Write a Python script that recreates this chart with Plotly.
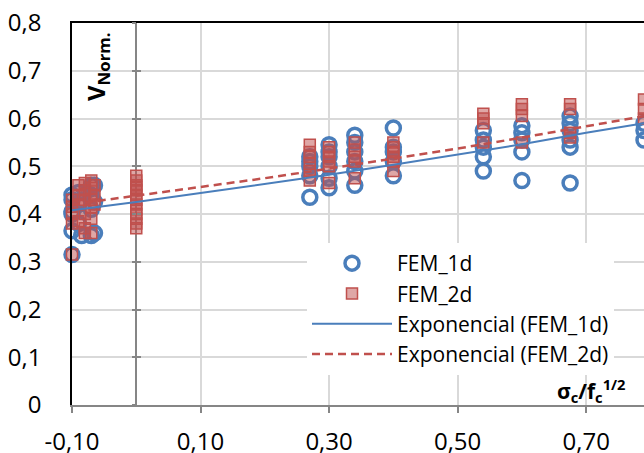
import plotly.graph_objects as go

# ---- data ----
fem1_x = [-0.10]*6 + [-0.09]*3 + [-0.085]*2 + [-0.07]*4 + [-0.065]*3 + \
         [0.27]*5 + [0.30]*6 + [0.34]*6 + [0.40]*5 + \
         [0.54]*5 + [0.60]*5 + [0.675]*6 + [0.79]*3
fem1_y = [0.44, 0.43, 0.405, 0.40, 0.365, 0.315,
          0.445, 0.42, 0.38,
          0.43, 0.355,
          0.46, 0.44, 0.41, 0.355,
          0.46, 0.425, 0.36,
          0.52, 0.51, 0.50, 0.48, 0.435,
          0.545, 0.53, 0.52, 0.50, 0.475, 0.455,
          0.565, 0.55, 0.53, 0.51, 0.49, 0.46,
          0.58, 0.54, 0.53, 0.51, 0.48,
          0.575, 0.555, 0.54, 0.52, 0.49,
          0.585, 0.57, 0.555, 0.53, 0.47,
          0.605, 0.59, 0.575, 0.555, 0.54, 0.465,
          0.59, 0.575, 0.555]

fem2_x = [-0.10]*5 + [-0.09]*4 + [-0.08]*6 + [-0.07]*6 + [-0.065]*3 + [0.0]*13 + \
         [0.27]*6 + [0.30]*6 + [0.34]*5 + [0.40]*6 + \
         [0.54]*4 + [0.60]*4 + [0.675]*4 + [0.79]*3
fem2_y = [0.43, 0.415, 0.40, 0.38, 0.315,
          0.46, 0.44, 0.42, 0.385,
          0.465, 0.45, 0.43, 0.40, 0.37, 0.36,
          0.47, 0.455, 0.43, 0.415, 0.39, 0.36,
          0.46, 0.44, 0.42,
          0.48, 0.47, 0.46, 0.455, 0.45, 0.44, 0.43, 0.42, 0.41, 0.40, 0.39, 0.38, 0.37,
          0.545, 0.53, 0.52, 0.505, 0.49, 0.47,
          0.54, 0.53, 0.52, 0.51, 0.50, 0.465,
          0.55, 0.535, 0.52, 0.51, 0.475,
          0.55, 0.54, 0.53, 0.52, 0.51, 0.49,
          0.61, 0.60, 0.59, 0.55,
          0.63, 0.62, 0.605, 0.55,
          0.63, 0.62, 0.57, 0.56,
          0.64, 0.62, 0.60]

# trend lines (exponential) read at a few x positions
trend_x = [-0.10, 0.00, 0.10, 0.20, 0.30, 0.40, 0.50, 0.60, 0.70, 0.79]
trend1_y = [0.408, 0.425, 0.444, 0.463, 0.482, 0.503, 0.524, 0.546, 0.570, 0.590]
trend2_y = [0.420, 0.438, 0.456, 0.475, 0.495, 0.516, 0.537, 0.560, 0.583, 0.605]

x_tickvals = [-0.10, 0.10, 0.30, 0.50, 0.70]
x_ticktext = ["-0,10", "0,10", "0,30", "0,50", "0,70"]
y_tickvals = [0, 0.1, 0.2, 0.3, 0.4, 0.5, 0.6, 0.7, 0.8]
y_ticktext = ["0", "0,1", "0,2", "0,3", "0,4", "0,5", "0,6", "0,7", "0,8"]

BLUE = "#4a7ebb"
RED = "#c0504d"
FONT = "Open Sans"

fig = go.Figure()
fig.add_trace(go.Scatter(x=fem1_x, y=fem1_y, mode="markers", name="FEM_1d", cliponaxis=False,
                         marker=dict(symbol="circle-open", size=14, color=BLUE,
                                     line=dict(width=3.5, color=BLUE))))
fig.add_trace(go.Scatter(x=fem2_x, y=fem2_y, mode="markers", name="FEM_2d", cliponaxis=False,
                         marker=dict(symbol="square", size=11,
                                     color="rgba(192,80,77,0.5)",
                                     line=dict(width=1.5, color=RED))))
fig.add_trace(go.Scatter(x=trend_x, y=trend1_y, mode="lines", name="Exponencial (FEM_1d)",
                         line=dict(color=BLUE, width=2)))
fig.add_trace(go.Scatter(x=trend_x, y=trend2_y, mode="lines", name="Exponencial (FEM_2d)",
                         line=dict(color=RED, width=2.5, dash="8px,5px")))
# helper empty traces for overlay axes
fig.add_trace(go.Scatter(x=[], y=[], yaxis="y2", showlegend=False, hoverinfo="skip"))
fig.add_trace(go.Scatter(x=[], y=[], yaxis="y3", showlegend=False, hoverinfo="skip"))
fig.add_trace(go.Scatter(x=[], y=[], xaxis="x2", showlegend=False, hoverinfo="skip"))

xr = [-0.10, 0.79]
yr = [0, 0.8]
pos0 = (0 - xr[0]) / (xr[1] - xr[0])

W, H = 644, 453
ML, MT, MB = 72, 23, 48
PW, PH = W - ML, H - MT - MB

def px_x(p):  # page pixel -> paper x
    return (p - ML) / PW

def px_y(p):  # page pixel -> paper y
    return (MT + PH - p) / PH

fig.update_layout(
    width=W, height=H,
    margin=dict(l=ML, r=0, t=MT, b=MB, autoexpand=False),
    paper_bgcolor="white", plot_bgcolor="white",
    font=dict(family=FONT, size=24, color="#000000"),
    showlegend=True,
    legend=dict(x=px_x(307), y=px_y(243), xanchor="left", yanchor="top",
                bgcolor="white", font=dict(size=21, family=FONT), itemwidth=80,
                tracegroupgap=0),
    xaxis=dict(range=xr, tickvals=x_tickvals, ticktext=x_ticktext,
               showgrid=True, gridcolor="#d9d9d9", gridwidth=1.5,
               showline=True, linecolor="#868686", linewidth=2,
               ticks="outside", ticklen=6, tickcolor="#868686", tickwidth=1.5,
               zeroline=True, zerolinecolor="#868686", zerolinewidth=2,
               ticklabelstandoff=8, fixedrange=True),
    xaxis2=dict(range=xr, overlaying="x", side="top", anchor="y",
                showline=True, linecolor="#000000", linewidth=1.5,
                showticklabels=False, ticks="", showgrid=False, zeroline=False),
    yaxis=dict(range=yr, tickvals=y_tickvals, ticktext=y_ticktext,
               showgrid=True, gridcolor="#d9d9d9", gridwidth=1.5,
               showline=True, linecolor="#000000", linewidth=1.5,
               ticks="", zeroline=False, ticklabelstandoff=24),
    yaxis2=dict(range=yr, overlaying="y", anchor="free", position=pos0,
                tickvals=y_tickvals, showticklabels=False, ticks="outside",
                ticklen=4, tickcolor="#868686", tickwidth=1.5,
                showline=False, showgrid=False, zeroline=False),
    yaxis3=dict(range=yr, overlaying="y", anchor="free", position=pos0,
                tickvals=y_tickvals, showticklabels=False, ticks="inside",
                ticklen=4, tickcolor="#868686", tickwidth=1.5,
                showline=False, showgrid=False, zeroline=False),
    annotations=[
        dict(text="<b>V<sub>Norm.</sub></b>", textangle=-90, xref="paper", yref="paper",
             x=px_x(97), y=px_y(67), xanchor="center", yanchor="middle",
             showarrow=False, font=dict(size=24, family=FONT)),
        dict(text="<b>σ<sub>c</sub>/f<sub>c</sub><sup>1/2</sup></b>", xref="paper", yref="paper",
             x=px_x(628), y=px_y(390), xanchor="right", yanchor="middle",
             showarrow=False, font=dict(size=21, family=FONT)),
    ],
)

fig.write_html(
    "out.html",
    config={"displayModeBar": False},
    post_script="document.body.style.margin='0';document.body.style.overflow='hidden';",
)
